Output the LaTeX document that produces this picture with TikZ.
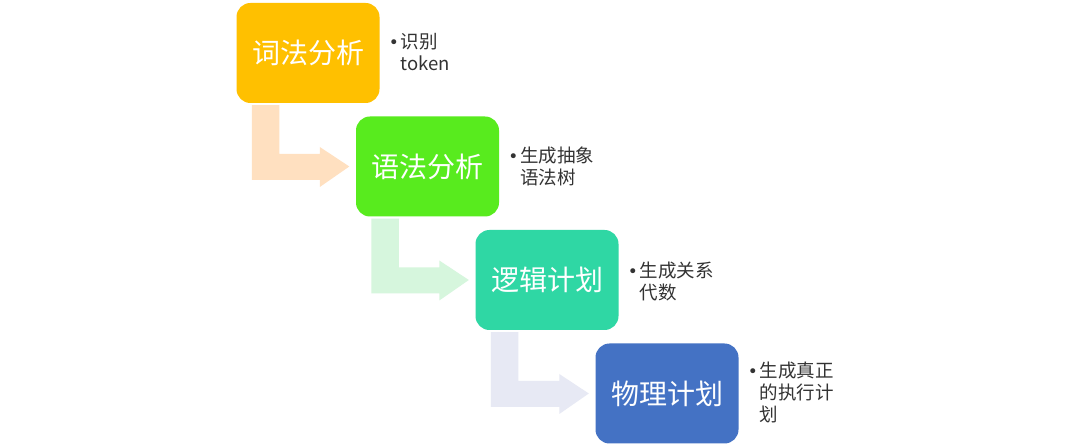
\documentclass[tikz,border=0pt]{standalone}
\usepackage{fontspec}
\setmainfont{Noto Sans CJK SC}
\newfontfamily\dejavu{DejaVu Sans}
\usetikzlibrary{calc}
\definecolor{c1}{HTML}{FFC000}
\definecolor{c2}{HTML}{58EB1E}
\definecolor{c3}{HTML}{2FD7A4}
\definecolor{c4}{HTML}{4472C4}
\definecolor{a1}{HTML}{FFE0C0}
\definecolor{a2}{HTML}{D6F6DD}
\definecolor{a3}{HTML}{E7E9F4}
\tikzset{
  stage/.style={rounded corners=14pt, minimum width=143pt, minimum height=100pt, inner sep=0pt,
    text=white, font=\fontsize{28pt}{32pt}\selectfont},
  note/.style={anchor=west, align=left, inner sep=0pt, text=black!80,
    font=\fontsize{18.5pt}{22pt}\selectfont},
}
\newcommand{\bul}{\llap{{\dejavu\fontsize{17pt}{22pt}\selectfont •}\hspace{2pt}}}
\newcommand{\bentarrow}[3]{%
  \fill[#3] let \p1=(#1.south west), \p2=(#2.west) in
   (\x1+15.5pt,\y1-2pt) -- (\x1+43pt,\y1-2pt) -- (\x1+43pt,\y2+12.5pt)
   -- (\x2-36pt,\y2+12.5pt) -- (\x2-36pt,\y2+19.5pt) -- (\x2-6.5pt,\y2)
   -- (\x2-36pt,\y2-20.5pt) -- (\x2-36pt,\y2-13.5pt) -- (\x1+15.5pt,\y2-13.5pt) -- cycle;}
\begin{document}
\begin{tikzpicture}[x=1pt,y=-1pt]
\useasboundingbox[fill=white] (0,0) rectangle (1080,446);
\node[stage, fill=c1] (b1) at (308,53) {词法分析};
\node[stage, fill=c2] (b2) at (427.5,166.5) {语法分析};
\node[stage, fill=c3] (b3) at (547,280) {逻辑计划};
\node[stage, fill=c4] (b4) at (667,393.5) {物理计划};
\bentarrow{b1}{b2}{a1}
\bentarrow{b2}{b3}{a2}
\bentarrow{b3}{b4}{a3}
\node[note] (n1) at ($(b1.east)+(21,-1)$) {\bul 识别\\token};
\node[note] (n2) at ($(b2.east)+(21,0)$) {\bul 生成抽象\\语法树};
\node[note] (n3) at ($(b3.east)+(21,1)$) {\bul 生成关系\\代数};
\node[note] (n4) at ($(b4.east)+(21,-1)$) {\bul 生成真正\\的执行计\\划};
\end{tikzpicture}
\end{document}
